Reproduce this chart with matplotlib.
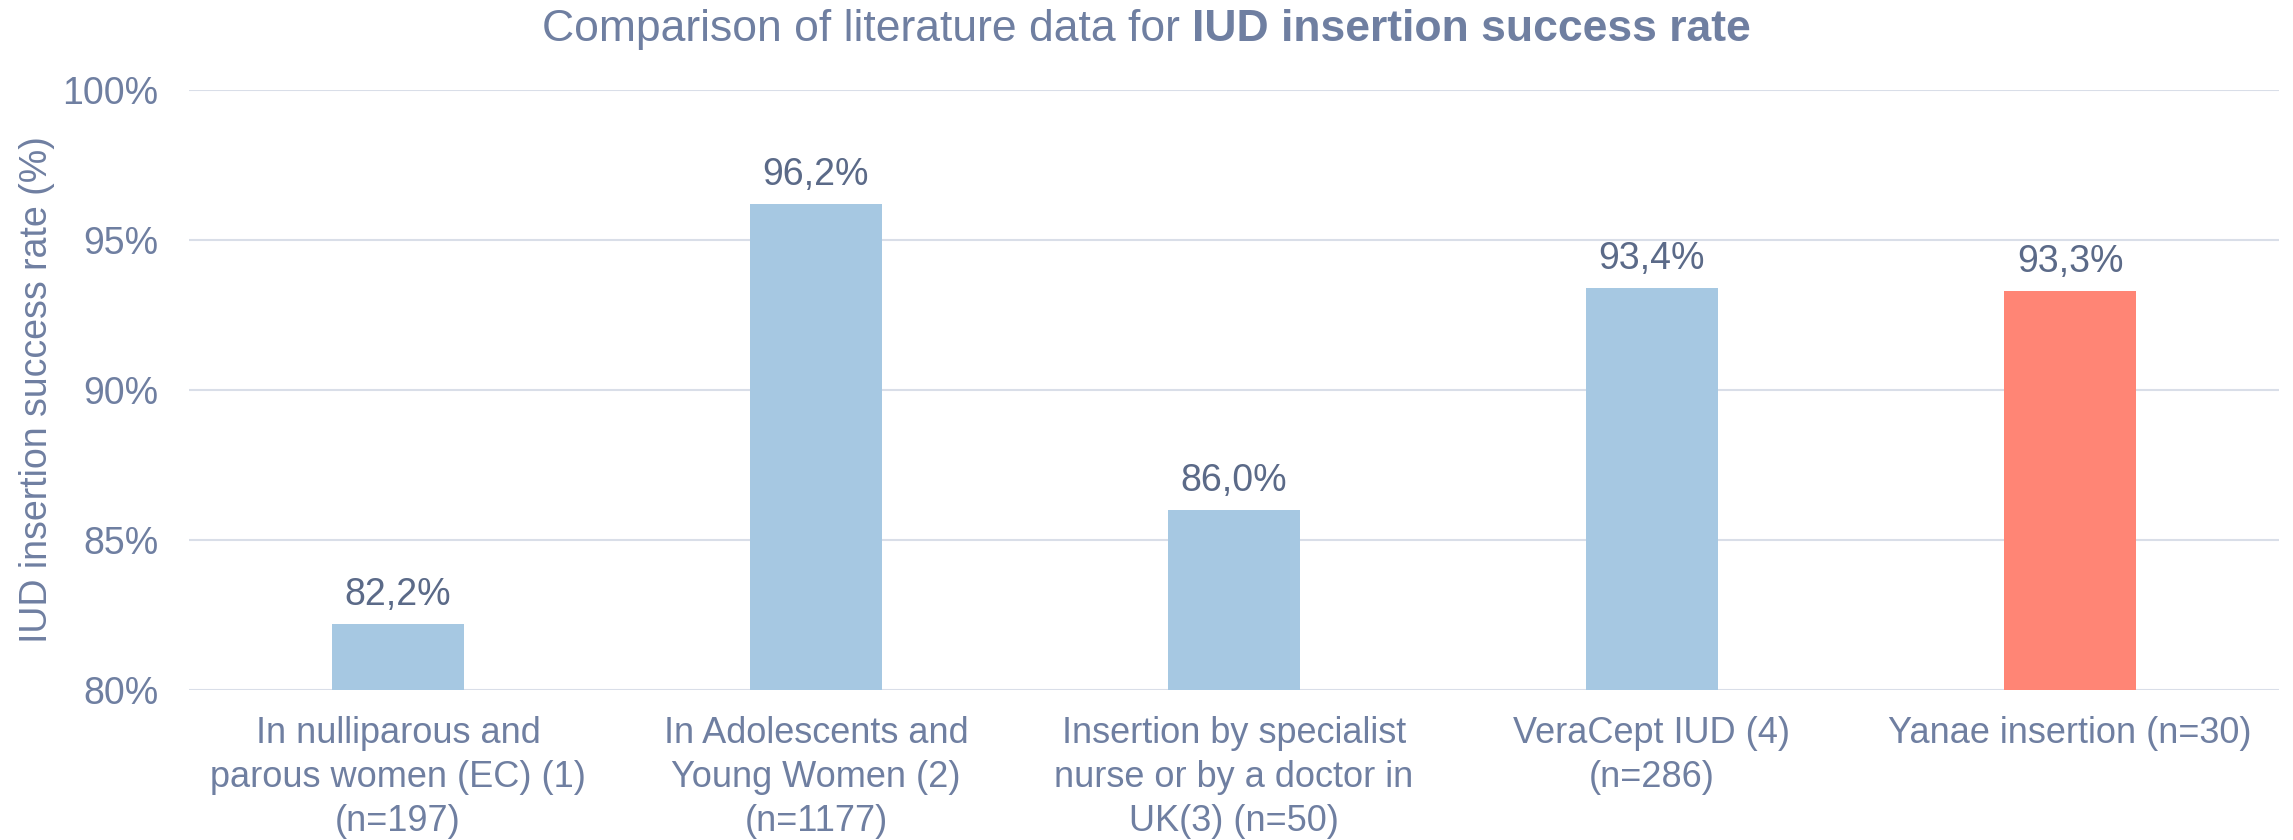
import matplotlib
matplotlib.use("Agg")
from matplotlib import pyplot as plt

# Données
categories = [
    "In nulliparous and\nparous women (EC) (1)\n(n=197)",
    "In Adolescents and\nYoung Women (2)\n(n=1177)",
    "Insertion by specialist\nnurse or by a doctor in\nUK(3) (n=50)",
    "VeraCept IUD (4)\n(n=286)",
    "Yanae insertion (n=30)",
]
valeurs = [82.2, 96.2, 86.0, 93.4, 93.3]
etiquettes = ["82,2%", "96,2%", "86,0%", "93,4%", "93,3%"]
yticks = [80, 85, 90, 95, 100]

bleu = "#A6C8E2"
rouge = "#FF8575"
couleurs = [bleu, bleu, bleu, bleu, rouge]
texte = "#6F7FA1"
texte_fonce = "#5B6A88"

plt.rcParams['font.family'] = ['Liberation Sans', 'DejaVu Sans']

fig = plt.figure(figsize=(22.93, 8.4), dpi=100)
ax = fig.add_axes([0.0824, 0.1786, 0.9115, 0.7143])

x = list(range(len(valeurs)))
ax.bar(x, valeurs, width=0.316, color=couleurs, zorder=3)
ax.set_ylim(80, 100)
ax.set_xlim(-0.5, len(valeurs) - 0.5)

for i in x:
    ax.annotate(etiquettes[i], (i, valeurs[i]), xytext=(0, 8), textcoords="offset points",
                ha="center", va="bottom", fontsize=27, color=texte_fonce)

ax.set_yticks(yticks)
ax.set_yticklabels([str(v) + "%" for v in yticks], fontsize=27, color=texte)
ax.set_xticks(x)
ax.set_xticklabels(categories, fontsize=26, color=texte, linespacing=1.32)
ax.tick_params(axis="x", length=0, pad=19)
ax.tick_params(axis="y", length=0, pad=22)
ax.grid(axis="y", color="#D9DEE8", linewidth=1.5, zorder=0)
for s in ax.spines.values():
    s.set_visible(False)
ax.set_ylabel("IUD insertion success rate (%)", fontsize=27, color=texte, labelpad=5)

# Titre : partie normale + partie en gras, centré
t1 = fig.text(0, 0.965, "Comparison of literature data for ", fontsize=32, color=texte, va="center")
t2 = fig.text(0, 0.965, "IUD insertion success rate", fontsize=32, color=texte, va="center", fontweight="bold")
fig.canvas.draw()
r = fig.canvas.get_renderer()
w1 = t1.get_window_extent(r).width / fig.bbox.width
w2 = t2.get_window_extent(r).width / fig.bbox.width
x0 = 0.5 - (w1 + w2) / 2
t1.set_x(x0)
t2.set_x(x0 + w1)

fig.savefig("out.png", dpi=100)
